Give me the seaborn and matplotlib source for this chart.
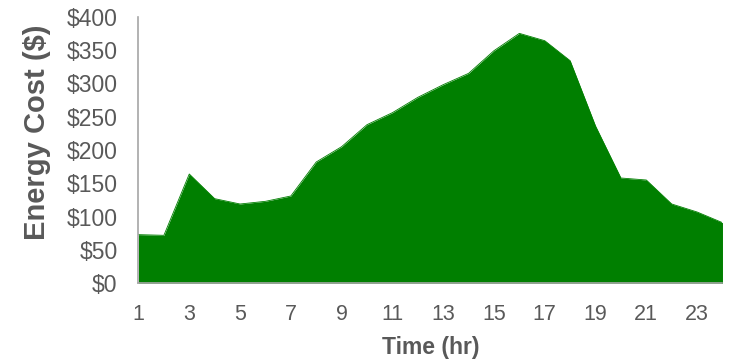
import numpy as np
import pandas as pd
import matplotlib
matplotlib.use("Agg")
import matplotlib.pyplot as plt
import seaborn as sns
from matplotlib.ticker import FuncFormatter, MultipleLocator

# hourly energy cost
hours = list(range(1, 25))
cost = [73, 72, 164, 127, 119, 123, 131, 182, 205, 238, 256, 279,
        298, 315, 349, 375, 364, 334, 236, 158, 155, 119, 107, 91]
x_tick_labels = [str(h) for h in range(1, 25, 2)]

sns.set_style("white")
plt.rcParams['font.family'] = ['Liberation Sans', 'DejaVu Sans']

text_color = '#595959'
axis_color = '#a6a6a6'
fill_color = '#007f00'

df = pd.DataFrame({'hour': hours, 'cost': cost})

fig = plt.figure(figsize=(7.30, 3.59), dpi=100)
ax = fig.add_axes([0.1897, 1 - 283.3 / 359, 0.800, 266.6 / 359])

sns.lineplot(data=df, x='hour', y='cost', ax=ax, color=fill_color, linewidth=0.6)
ax.fill_between(df['hour'], df['cost'], 0, color=fill_color, linewidth=0)

ax.set_xlim(1, 24)
ax.set_ylim(0, 400)
ax.set_xticks(range(1, 25, 2))
ax.set_xticklabels(x_tick_labels)
ax.set_xticks(range(1, 25), minor=True)
ax.yaxis.set_major_locator(MultipleLocator(50))
ax.yaxis.set_major_formatter(FuncFormatter(lambda v, p: f"${v:.0f}"))

for side in ['top', 'right']:
    ax.spines[side].set_visible(False)
for side in ['left', 'bottom']:
    ax.spines[side].set_color(axis_color)
    ax.spines[side].set_linewidth(1.2)

ax.tick_params(axis='both', which='both', direction='out', color=axis_color,
               width=1.2, length=5, labelcolor=text_color)
ax.tick_params(axis='y', labelsize=16.5, pad=10)
ax.tick_params(axis='x', labelsize=15.5, pad=10)

ax.set_xlabel('Time (hr)', fontsize=16.5, fontweight='bold', color=text_color)
ax.set_ylabel('Energy Cost ($)', fontsize=21, fontweight='bold', color=text_color)
ax.xaxis.set_label_coords(0.5, -0.198)
ax.yaxis.set_label_coords(-0.150, 0.5675)

fig.savefig('out.png', dpi=100)
